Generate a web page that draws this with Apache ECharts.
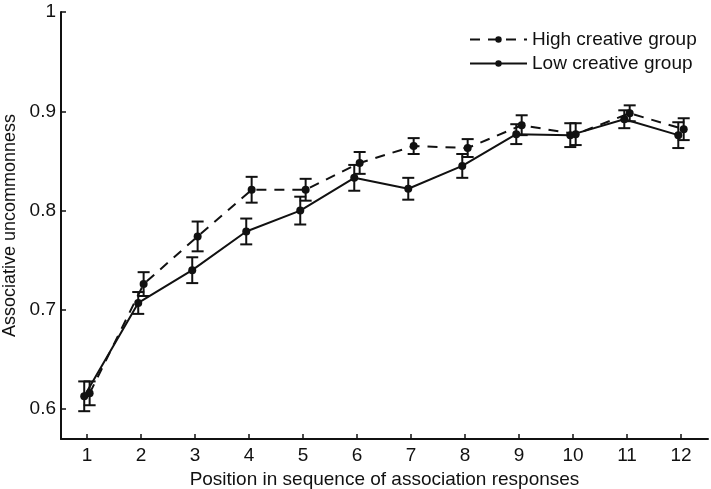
<!DOCTYPE html>
<html>
<head>
<meta charset="utf-8">
<script src="https://cdn.jsdelivr.net/npm/echarts@6/dist/echarts.min.js"></script>
<style>html,body{margin:0;padding:0;background:#fff}#c{width:711px;height:489px}</style>
</head>
<body>
<div id="c"></div>
<script>
const positions = [1,2,3,4,5,6,7,8,9,10,11,12];
const highMean = [0.616,0.726,0.774,0.821,0.821,0.848,0.865,0.863,0.886,0.877,0.898,0.882];
const highErr  = [0.012,0.012,0.015,0.013,0.011,0.011,0.008,0.009,0.010,0.011,0.008,0.011];
const lowMean  = [0.613,0.707,0.740,0.779,0.800,0.833,0.822,0.845,0.877,0.876,0.892,0.876];
const lowErr   = [0.015,0.011,0.013,0.013,0.014,0.013,0.011,0.012,0.010,0.012,0.009,0.013];
const yTicks = [0.6,0.7,0.8,0.9,1];
const seriesNames = ['High creative group','Low creative group'];

const OFF = 0.05;
const ink = '#111';
const font = 'Liberation Sans, Arial, Helvetica, sans-serif';

function pts(mean, off){ return positions.map((p,i)=>[p+off, mean[i]]); }
function errData(mean, err, off){ return positions.map((p,i)=>[p+off, mean[i]-err[i], mean[i]+err[i]]); }

function errRender(params, api){
  const x = api.value(0), lo = api.value(1), hi = api.value(2);
  const a = api.coord([x, lo]), b = api.coord([x, hi]);
  const hw = 6;
  const st = {stroke: ink, lineWidth: 2, fill: null};
  return {type:'group', children:[
    {type:'line', shape:{x1:a[0],y1:a[1],x2:b[0],y2:b[1]}, style:st},
    {type:'line', shape:{x1:a[0]-hw,y1:a[1],x2:a[0]+hw,y2:a[1]}, style:st},
    {type:'line', shape:{x1:b[0]-hw,y1:b[1],x2:b[0]+hw,y2:b[1]}, style:st}
  ]};
}

const chart = echarts.init(document.getElementById('c'), null, {renderer:'canvas'});
chart.setOption({
  animation:false,
  backgroundColor:'#fff',
  textStyle:{fontFamily:font, color:ink},
  grid:{left:61, right:3, top:12, bottom:50, containLabel:false, outerBoundsMode:'none'},
  legend:{
    orient:'vertical', left:464, top:25, itemWidth:57, itemHeight:8, itemGap:5,
    data:seriesNames,
    textStyle:{fontSize:19, color:ink, fontFamily:font}
  },
  xAxis:{
    type:'value', min:0.52, max:12.5,
    name:'Position in sequence of association responses', nameLocation:'middle', nameGap:21,
    nameTextStyle:{fontSize:19, color:ink, fontFamily:font},
    axisLine:{show:true, lineStyle:{color:ink, width:2}},
    axisTick:{show:true, inside:true, length:5, lineStyle:{color:ink, width:1.5}, customValues:positions},
    axisLabel:{fontSize:19, color:ink, margin:7, customValues:positions, fontFamily:font},
    splitLine:{show:false}
  },
  yAxis:{
    type:'value', min:0.57, max:1,
    name:'Associative uncommonness', nameLocation:'middle', nameGap:42,
    nameTextStyle:{fontSize:18, color:ink, fontFamily:font},
    axisLine:{show:true, lineStyle:{color:ink, width:2}},
    axisTick:{show:true, inside:true, length:5, lineStyle:{color:ink, width:1.5}, customValues:yTicks},
    axisLabel:{fontSize:19, color:ink, margin:5, customValues:yTicks, fontFamily:font, formatter:v=>String(+v.toFixed(2))},
    splitLine:{show:false}
  },
  series:[
    {type:'custom', renderItem:errRender, data:errData(highMean, highErr, OFF), encode:{x:0, y:[1,2]}, z:1, silent:true},
    {type:'custom', renderItem:errRender, data:errData(lowMean, lowErr, -OFF), encode:{x:0, y:[1,2]}, z:1, silent:true},
    {name:seriesNames[0], type:'line', data:pts(highMean, OFF), symbol:'circle', symbolSize:8,
     lineStyle:{color:ink, width:2, type:[10,8]}, itemStyle:{color:ink}, z:3},
    {name:seriesNames[1], type:'line', data:pts(lowMean, -OFF), symbol:'circle', symbolSize:8,
     lineStyle:{color:ink, width:2, type:'solid'}, itemStyle:{color:ink}, z:3}
  ]
});
</script>
</body>
</html>
